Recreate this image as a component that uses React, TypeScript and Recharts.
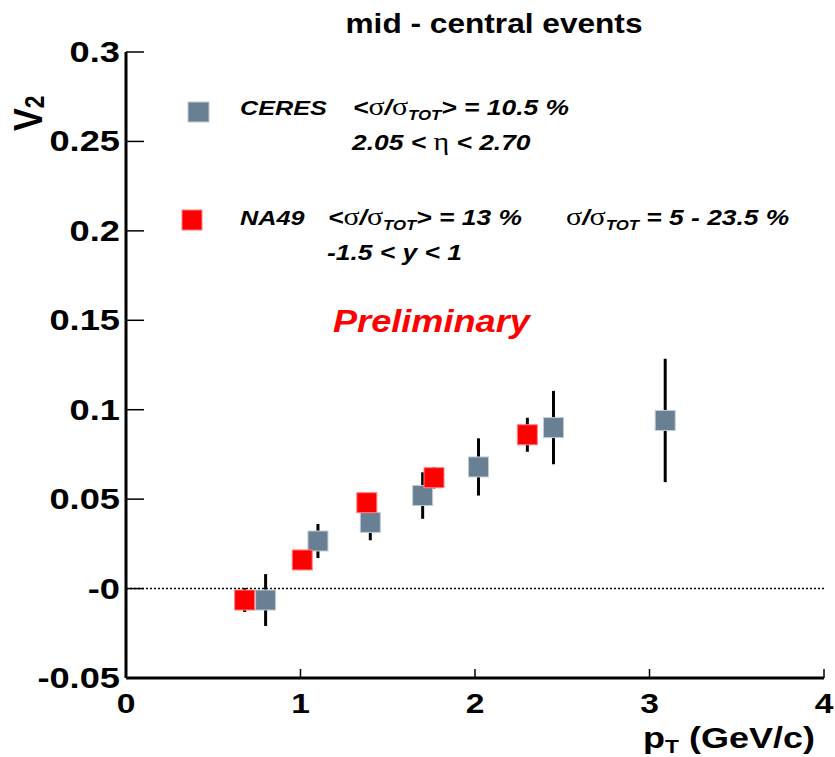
import React from 'react';
import { ScatterChart, Scatter, XAxis, YAxis, ErrorBar, ReferenceLine } from 'recharts';

// CERES points: pT, v2, stat. error
const ceresPt = [0.8, 1.1, 1.4, 1.7, 2.02, 2.45, 3.09];
const ceresV2 = [-0.0064, 0.0266, 0.037, 0.052, 0.068, 0.09, 0.094];
const ceresErr = [0.0145, 0.0095, 0.01, 0.013, 0.016, 0.0205, 0.0345];

// NA49 points
const na49Pt = [0.68, 1.01, 1.38, 1.765, 2.3];
const na49V2 = [-0.0064, 0.016, 0.048, 0.062, 0.086];
const na49Err = [0.0067, 0.004, 0.005, 0.006, 0.0095];

const xTicks = [0, 1, 2, 3, 4];
const yTicks = [-0.05, 0, 0.05, 0.1, 0.15, 0.2, 0.25, 0.3];

const ceresData = ceresPt.map((x, i) => ({ x, y: ceresV2[i], err: ceresErr[i] }));
const na49Data = na49Pt.map((x, i) => ({ x, y: na49V2[i], err: na49Err[i] }));

const SANS = "'Liberation Sans', Arial, Helvetica, sans-serif";
const GREEK = "'Liberation Serif', 'DejaVu Serif', serif";
const CERES_FILL = '#687f94';
const NA49_FILL = '#ff0000';

type TxtProps = {
  x: number;
  y: number;
  size: number;
  sx?: number;
  anchor?: 'start' | 'middle' | 'end';
  italic?: boolean;
  fill?: string;
  children: React.ReactNode;
};

const Txt = ({ x, y, size, sx = 1.2, anchor = 'start', italic = false, fill = '#000', children }: TxtProps) => (
  <g transform={`translate(${x},${y}) scale(${sx},1)`}>
    <text
      x={0}
      y={0}
      fontFamily={SANS}
      fontSize={size}
      fontWeight="bold"
      fontStyle={italic ? 'italic' : 'normal'}
      fill={fill}
      textAnchor={anchor}
    >
      {children}
    </text>
  </g>
);

const Sig = () => (
  <tspan fontFamily={GREEK} fontStyle="normal" fontWeight="normal" fontSize={25}>
    σ
  </tspan>
);

const SigRatio = () => (
  <>
    <Sig />
    <tspan>/</tspan>
    <Sig />
    <tspan fontSize={14} dy={5}>
      TOT
    </tspan>
  </>
);

const square = (fill: string, stroke: string) => (props: any) => {
  const { cx = 0, cy = 0 } = props;
  return <rect x={cx - 10} y={cy - 10} width={20} height={20} fill={fill} stroke={stroke} strokeWidth={1} />;
};

// label sits at tickMargin from the inner end of the tick; tick itself drawn here (inward)
const XTick = (props: any) => {
  const { x, y, payload } = props;
  return (
    <g>
      <line x1={x} x2={x} y1={y} y2={y - 9} stroke="#000" strokeWidth={1.5} />
      <Txt x={x} y={y + 35} size={28} anchor="middle">
        {payload.value}
      </Txt>
    </g>
  );
};

const YTick = (props: any) => {
  const { x, y, payload } = props;
  const v = payload.value;
  return (
    <g>
      <line x1={x + 6} x2={x + 24} y1={y} y2={y} stroke="#000" strokeWidth={1.5} />
      <Txt x={x} y={y + 10} size={29} sx={1.25} anchor="end">
        {v === 0 ? '-0' : String(v)}
      </Txt>
    </g>
  );
};

const Annotations = () => (
  <g>
    <Txt x={494} y={33} size={28.5} sx={1.11} anchor="middle">
      mid - central events
    </Txt>

    <g transform="translate(42,131) rotate(-90) scale(1,1.17)">
      <text x={0} y={0} fontFamily={SANS} fontWeight="bold" fontSize={34}>
        V
        <tspan fontSize={23} dy={2}>
          2
        </tspan>
      </text>
    </g>

    <Txt x={815} y={748} size={30} anchor="end">
      p
      <tspan fontSize={19} dy={5}>
        T
      </tspan>
      <tspan dy={-5}> (GeV/c)</tspan>
    </Txt>

    <rect x={188} y={102} width={21} height={20} fill={CERES_FILL} stroke="#c0ccd6" strokeWidth={1} />
    <Txt x={240} y={115} size={21} italic>
      CERES
    </Txt>
    <Txt x={353} y={115} size={22} italic>
      {'<'}
      <SigRatio />
      <tspan dy={-5}>{'> = 10.5 %'}</tspan>
    </Txt>
    <Txt x={352} y={150} size={22} italic>
      {'2.05 < '}
      <tspan fontFamily={GREEK} fontStyle="normal" fontWeight="normal" fontSize={25}>
        η
      </tspan>
      {' < 2.70'}
    </Txt>

    <rect x={182} y={210} width={20} height={20} fill={NA49_FILL} stroke="#ff8080" strokeWidth={1} />
    <Txt x={240} y={225} size={21} italic>
      NA49
    </Txt>
    <Txt x={328} y={225} size={22} italic>
      {'<'}
      <SigRatio />
      <tspan dy={-5}>{'> = 13 %'}</tspan>
    </Txt>
    <Txt x={566} y={225} size={22} italic>
      <SigRatio />
      <tspan dy={-5}>{' = 5 - 23.5 %'}</tspan>
    </Txt>
    <Txt x={327} y={260} size={22} italic>
      {'-1.5 < y < 1'}
    </Txt>

    <Txt x={333} y={332} size={32} sx={1.13} italic fill="#ff0000">
      Preliminary
    </Txt>
  </g>
);

const App = () => {
  return (
    <div style={{ position: 'absolute', left: 0, top: 0, background: '#fff' }}>
      <ScatterChart width={835} height={757} margin={{ top: 52, right: 11, bottom: 29, left: 0 }}>
        <XAxis
          type="number"
          dataKey="x"
          domain={[0, 4]}
          ticks={xTicks}
          height={50}
          axisLine={{ stroke: '#000', strokeWidth: 3 }}
          tickLine={false}
          tickSize={-9}
          tickMargin={9}
          tick={<XTick />}
          allowDataOverflow
        />
        <XAxis
          xAxisId="top"
          orientation="top"
          type="number"
          domain={[0, 4]}
          height={0}
          tick={false}
          tickLine={false}
          axisLine={{ stroke: '#000', strokeWidth: 3 }}
        />
        <YAxis
          type="number"
          dataKey="y"
          domain={[-0.05, 0.3]}
          ticks={yTicks}
          width={126}
          axisLine={{ stroke: '#000', strokeWidth: 3 }}
          tickLine={false}
          tickSize={-18}
          tickMargin={24}
          tick={<YTick />}
          allowDataOverflow
        />
        <YAxis
          yAxisId="right"
          orientation="right"
          type="number"
          domain={[-0.05, 0.3]}
          width={0}
          tick={false}
          tickLine={false}
          axisLine={{ stroke: '#000', strokeWidth: 3 }}
        />
        <ReferenceLine y={0} stroke="#000" strokeWidth={1.5} strokeDasharray="2 2" />
        <Scatter data={ceresData} shape={square(CERES_FILL, '#c0ccd6')} isAnimationActive={false}>
          <ErrorBar dataKey="err" direction="y" width={0} stroke="#000" strokeWidth={3} />
        </Scatter>
        <Scatter data={na49Data} shape={square(NA49_FILL, '#ff8080')} isAnimationActive={false}>
          <ErrorBar dataKey="err" direction="y" width={0} stroke="#000" strokeWidth={3} />
        </Scatter>
        <Annotations />
      </ScatterChart>
    </div>
  );
};

export default App;
